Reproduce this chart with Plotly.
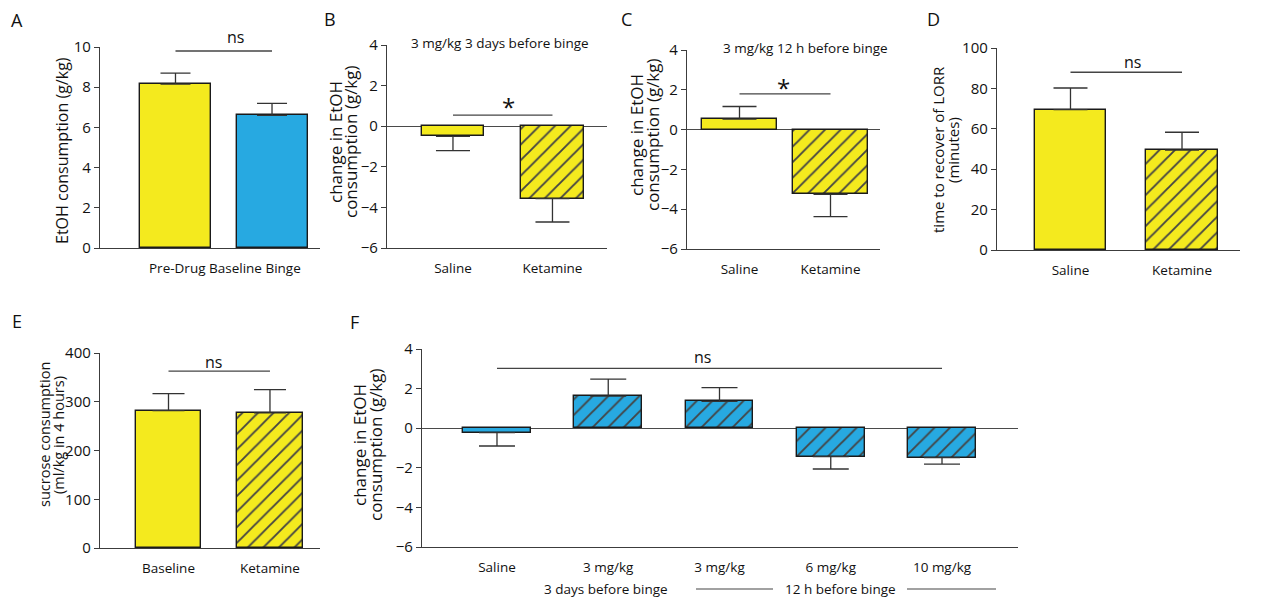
import plotly.graph_objects as go

# page renders the figure with an 8px body margin; compensate
OFF = 8
W, H = 1261 - OFF, 600 - OFF

# ---------------- data ----------------
A_cats = ["Pre-Drug Baseline", "Binge"]
A_means = [8.15, 6.6]
A_sem = [0.55, 0.6]
A_xlabel = "Pre-Drug Baseline Binge"
A_yticks = [0, 2, 4, 6, 8, 10]

B_cats = ["Saline", "Ketamine"]
B_means = [-0.5, -3.57]
B_sem = [0.7, 1.15]
B_yticks = [-6, -4, -2, 0, 2, 4]

C_cats = ["Saline", "Ketamine"]
C_means = [0.53, -3.25]
C_sem = [0.63, 1.12]
C_yticks = [-6, -4, -2, 0, 2, 4]

D_cats = ["Saline", "Ketamine"]
D_means = [69.5, 49.4]
D_sem = [10.7, 8.9]
D_yticks = [0, 20, 40, 60, 80, 100]

E_cats = ["Baseline", "Ketamine"]
E_means = [282, 277]
E_sem = [34.5, 48]
E_yticks = [0, 100, 200, 300, 400]

F_cats = ["Saline", "3 mg/kg", "3 mg/kg", "6 mg/kg", "10 mg/kg"]
F_means = [-0.22, 1.62, 1.35, -1.44, -1.49]
F_sem = [0.68, 0.86, 0.7, 0.62, 0.32]
F_yticks = [-6, -4, -2, 0, 2, 4]
F_groups = ["3 days before binge", "12 h before binge"]

# ---------------- style ----------------
YEL = "#F4EA1E"
BLU = "#27A9E1"
AX = "#3C3C3C"
TXT = "#111111"
FONT = "Open Sans"

def px(x):
    return (x - OFF) / W

def py(y):
    return 1 - (y - OFF) / H

panels = [
    # key, cats, means, sem, yticks, colors, hatch, xpix, ypix, xrange, yrange, bw, capw, zeroline, showxlabels
    ("A", A_cats, A_means, A_sem, A_yticks, [YEL, BLU], ["", ""], (100, 320), (47, 248), [-0.782, 1.497], [0, 10], 0.736, 15, False, False),
    ("B", B_cats, B_means, B_sem, B_yticks, [YEL, YEL], ["", "/"], (387, 607), (45, 248), [-0.663, 1.548], [-6, 4], 0.63, 17, True, True),
    ("C", C_cats, C_means, C_sem, C_yticks, [YEL, YEL], ["", "/"], (687, 880), (50, 249), [-0.577, 1.544], [-6, 4], 0.835, 17, True, True),
    ("D", D_cats, D_means, D_sem, D_yticks, [YEL, YEL], ["", "/"], (997, 1240), (48, 250), [-0.659, 1.520], [0, 100], 0.64, 17, False, True),
    ("E", E_cats, E_means, E_sem, E_yticks, [YEL, YEL], ["", "/"], (100, 320), (353, 548), [-0.675, 1.493], [0, 400], 0.645, 16, False, True),
    ("F", F_cats, F_means, F_sem, F_yticks, [BLU] * 5, ["", "/", "/", "/", "/"], (422, 1018), (349, 547), [-0.674, 4.683], [-6, 4], 0.61, 18, True, True),
]

fig = go.Figure()
layout = dict(
    width=W, height=H, autosize=False,
    margin=dict(l=0, r=0, t=0, b=0, pad=0, autoexpand=False),
    paper_bgcolor="white", plot_bgcolor="rgba(0,0,0,0)",
    showlegend=False, bargap=0,
    font=dict(family=FONT, color=TXT, size=13),
)

for i, (key, cats, means, sem, yticks, colors, hatch, xp, yp, xr, yr, bw, capw, zl, showx) in enumerate(panels):
    n = i + 1
    xa = "x" if n == 1 else f"x{n}"
    ya = "y" if n == 1 else f"y{n}"
    xs = list(range(len(cats)))
    plus = [s if m >= 0 else 0 for m, s in zip(means, sem)]
    minus = [0 if m >= 0 else s for m, s in zip(means, sem)]
    fig.add_trace(go.Bar(
        x=xs, y=means, width=bw, xaxis=xa, yaxis=ya,
        marker=dict(color=colors, line=dict(color="#1a1a1a", width=1.4),
                    pattern=dict(shape=hatch, fgcolor="#000000", fgopacity=1, size=11,
                                 solidity=0.17, fillmode="overlay")),
        error_y=dict(type="data", symmetric=False, array=plus, arrayminus=minus,
                     color="#333", thickness=1.3, width=capw),
        hoverinfo="skip",
    ))
    xkey = "xaxis" if n == 1 else f"xaxis{n}"
    ykey = "yaxis" if n == 1 else f"yaxis{n}"
    layout[xkey] = dict(
        domain=[px(xp[0]), px(xp[1])], range=xr, anchor=ya, automargin=False,
        showline=True, linecolor=AX, linewidth=1.3,
        showgrid=False, zeroline=False,
        tickmode="array", tickvals=xs, ticktext=cats,
        ticks="outside", ticklen=8, tickcolor="rgba(0,0,0,0)",
        showticklabels=showx, tickfont=dict(family=FONT, size=13.5, color=TXT),
        fixedrange=True,
    )
    layout[ykey] = dict(
        domain=[py(yp[1]), py(yp[0])], range=yr, anchor=xa, automargin=False,
        showline=True, linecolor=AX, linewidth=1.3,
        showgrid=False, zeroline=zl, zerolinecolor="#4a4a4a", zerolinewidth=1.3,
        tickmode="array", tickvals=yticks,
        ticks="outside", ticklen=5, tickcolor=AX, tickwidth=1.2,
        tickfont=dict(family=FONT, size=15, color=TXT),
        fixedrange=True,
    )

fig.update_layout(**layout)

ann = []
shapes = []

def text(t, x, y, size=13.5, angle=0):
    ann.append(dict(text=t, x=px(x), y=py(y), xref="paper", yref="paper", showarrow=False,
                    textangle=angle, font=dict(family=FONT, size=size, color=TXT),
                    xanchor="center", yanchor="middle"))

# panel letters
for lab, x, y in [("A", 17, 20), ("B", 330, 19), ("C", 626, 19), ("D", 933, 19), ("E", 17, 321), ("F", 354, 322)]:
    text(lab, x, y, 18)

# y-axis titles (one annotation per line for tight spacing)
ytitles = [
    (["EtOH consumption (g/kg)"], [62], 151, 16),
    (["change in EtOH", "consumption (g/kg)"], [336, 351], 142, 17),
    (["change in EtOH", "consumption (g/kg)"], [637, 653], 135, 17),
    (["time to recover of LORR", "(minutes)"], [938, 953], 150, 15),
    (["sucrose consumption", "(ml/kg in 4 hours)"], [44, 58], 435, 14.5),
    (["change in EtOH", "consumption (g/kg)"], [359, 375], 445, 17),
]
for lines, xs, yc, fs in ytitles:
    for t, x in zip(lines, xs):
        text(t, x, yc, fs, -90)

# panel titles
text("3 mg/kg 3 days before binge", 500, 43, 13.5)
text("3 mg/kg 12 h before binge", 805, 48, 13.5)

# A x label
text(A_xlabel, 225, 268, 13.5)

# significance bars
sig = [
    ("x", "y", 0, 1, 9.8, "ns", 235, 37, 16),
    ("x2", "y2", 0, 1, 0.55, "*", 508, 107, 24),
    ("x3", "y3", 0, 1, 1.8, "*", 783, 87, 24),
    ("x4", "y4", 0, 1, 88, "ns", 1132, 62, 16),
    ("x5", "y5", 0, 1, 363, "ns", 213, 362, 16),
    ("x6", "y6", 0, 4, 3.02, "ns", 702, 357, 16),
]
for xr_, yr_, x0, x1, yv, t, tx, ty, fs in sig:
    shapes.append(dict(type="line", xref=xr_, yref=yr_, x0=x0, x1=x1, y0=yv, y1=yv,
                       line=dict(color="#444", width=1.3)))
    text(t, tx, ty, fs)

# F group labels
text(F_groups[0], 606, 589, 13.5)
text(F_groups[1], 840, 589, 13.5)
for a, b in [(696, 773), (907, 996)]:
    shapes.append(dict(type="line", xref="paper", yref="paper", x0=px(a), x1=px(b), y0=py(589), y1=py(589),
                       line=dict(color="#444", width=1.1)))

fig.update_layout(annotations=ann, shapes=shapes)
fig.write_html("out.html")
